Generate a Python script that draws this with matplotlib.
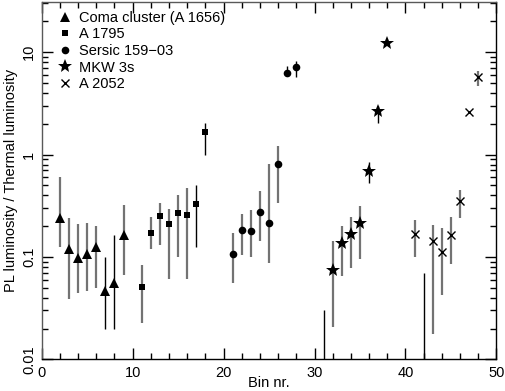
import numpy as np
import matplotlib
matplotlib.use("Agg")
import matplotlib.pyplot as plt
from matplotlib.ticker import MultipleLocator, LogLocator, FixedLocator, FixedFormatter, NullFormatter

plt.rcParams['font.family'] = ['Liberation Sans', 'DejaVu Sans']

# Coma cluster (A 1656)
coma_bins = [2, 3, 4, 5, 6, 7, 8, 9]
coma_val = [0.24, 0.119, 0.098, 0.107, 0.125, 0.047, 0.056, 0.163]
coma_lo = [0.125, 0.039, 0.044, 0.047, 0.050, 0.0196, 0.0196, 0.066]
coma_hi = [0.60, 0.242, 0.208, 0.214, 0.199, 0.100, 0.163, 0.323]

# A 1795
a1795_bins = [11, 12, 13, 14, 15, 16, 17, 18]
a1795_val = [0.051, 0.173, 0.251, 0.211, 0.270, 0.255, 0.33, 1.65]
a1795_lo = [0.0228, 0.119, 0.130, 0.0616, 0.100, 0.0616, 0.125, 1.0]
a1795_hi = [0.083, 0.245, 0.335, 0.291, 0.405, 0.469, 0.50, 2.02]

# Sersic 159-03
sersic_bins = [21, 22, 23, 24, 25, 26, 27, 28]
sersic_val = [0.108, 0.182, 0.179, 0.278, 0.216, 0.81, 6.3, 7.1]
sersic_lo = [0.0551, 0.104, 0.100, 0.142, 0.087, 0.34, 6.2, 5.74]
sersic_hi = [0.173, 0.265, 0.285, 0.438, 0.81, 1.22, 7.37, 8.17]

# MKW 3s
mkw_bins = [32, 33, 34, 35, 36, 37, 38]
mkw_val = [0.0742, 0.138, 0.166, 0.214, 0.698, 2.68, 12.2]
mkw_lo = [0.0208, 0.0649, 0.0781, 0.095, 0.526, 2.02, 12.2]
mkw_hi = [0.142, 0.199, 0.248, 0.312, 0.843, 2.98, 12.2]

# A 2052
a2052_bins = [41, 43, 44, 45, 46, 47, 48]
a2052_val = [0.169, 0.143, 0.112, 0.165, 0.356, 2.58, 5.67]
a2052_lo = [0.100, 0.0177, 0.0424, 0.0862, 0.242, 2.58, 4.69]
a2052_hi = [0.232, 0.203, 0.193, 0.245, 0.452, 2.58, 6.52]

# bins with only an error bar reaching up from below the axis
limit_bins = [31, 42]
limit_hi = [0.0303, 0.0705]

# error bars drawn in black (the rest are gray)
black_bins = [7, 8, 17, 18, 27, 28, 31, 36, 37, 42]

YMIN, YMAX = 0.01, 31

fig = plt.figure(figsize=(5.05, 3.91), dpi=100)
ax = fig.add_axes([0.0826, 0.081, 0.9004, 0.914])

series = [
    (coma_bins, coma_val, coma_lo, coma_hi, '^', 7, "Coma cluster (A 1656)"),
    (a1795_bins, a1795_val, a1795_lo, a1795_hi, 's', 5, "A 1795"),
    (sersic_bins, sersic_val, sersic_lo, sersic_hi, 'o', 5.5, "Sersic 159\u221203"),
    (mkw_bins, mkw_val, mkw_lo, mkw_hi, '*', 10, "MKW 3s"),
    (a2052_bins, a2052_val, a2052_lo, a2052_hi, 'x', 6, "A 2052"),
]

def bar_style(b):
    if b in black_bins:
        return 'black', 1.0
    return '0.45', 1.6

for bins, val, lo, hi, mk, ms, lab in series:
    for b, l, h in zip(bins, lo, hi):
        col, lw = bar_style(b)
        ax.vlines(b, l, h, colors=col, linewidth=lw, zorder=2)
    if mk == 'x':
        ax.plot(bins, val, ls='none', marker=mk, ms=ms, mew=1.0, color='black', zorder=3, label=lab)
    else:
        ax.plot(bins, val, ls='none', marker=mk, ms=ms, mew=0, color='black', zorder=3, label=lab)

for b, h in zip(limit_bins, limit_hi):
    ax.vlines(b, YMIN, h, colors='black', linewidth=1.0, zorder=2)

ax.set_yscale('log')
ax.set_xlim(0, 50)
ax.set_ylim(YMIN, YMAX)

ax.xaxis.set_major_locator(MultipleLocator(10))
ax.xaxis.set_minor_locator(MultipleLocator(2))
ax.yaxis.set_major_locator(FixedLocator([0.01, 0.1, 1, 10]))
ax.yaxis.set_major_formatter(FixedFormatter(["0.01", "0.1", "1", "10"]))
ax.yaxis.set_minor_locator(LogLocator(base=10, subs=np.arange(2, 10)))
ax.yaxis.set_minor_formatter(NullFormatter())

ax.tick_params(which='both', direction='in', top=True, right=True, width=1.0, labelsize=10.5)
ax.tick_params(which='major', length=8)
ax.tick_params(which='minor', length=4)
ax.tick_params(axis='x', pad=5)
ax.tick_params(axis='y', labelrotation=90, pad=4)
for t in ax.get_yticklabels():
    t.set_va('center')

for s in ['top', 'left']:
    ax.spines[s].set_color('0.35')
for s in ax.spines.values():
    s.set_linewidth(1.0)

ax.set_xlabel("Bin nr.", fontsize=10.5, labelpad=-3)
ax.set_ylabel("PL luminosity / Thermal luminosity", fontsize=10.5, labelpad=3)

ax.legend(loc='upper left', frameon=False, fontsize=10.5, handlelength=0.8,
          handletextpad=0.5, labelspacing=0.18, borderaxespad=0.2,
          bbox_to_anchor=(0.02, 1.0))

fig.savefig("out.png", dpi=100)
